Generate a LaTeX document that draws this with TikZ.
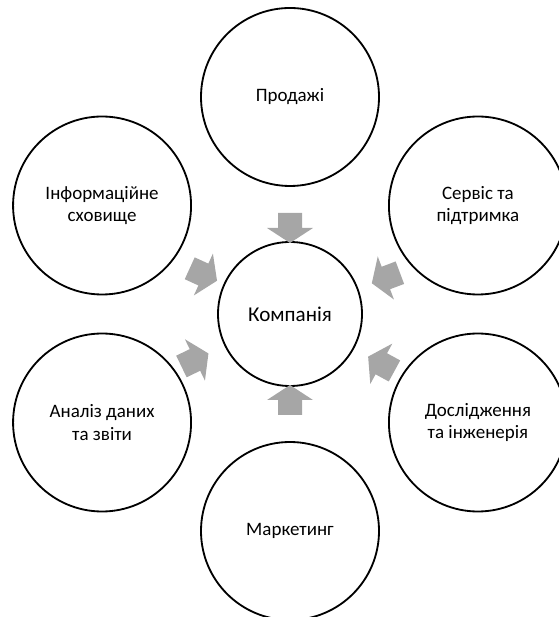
\documentclass[tikz,border=0pt]{standalone}
\usepackage{fontspec}
\setmainfont{Carlito}
\usepackage{tikz}
\usetikzlibrary{positioning}

\begin{document}
\begin{tikzpicture}
        [
          hub/.style={circle,draw=black,line width=1.3pt,minimum size=3.6cm,
            align=center,font=\fontsize{15}{18}\selectfont},
          unit/.style={circle,draw=black,line width=1.3pt,minimum size=4.45cm,
            align=center,font=\fontsize{13.5}{16}\selectfont},
          blockarrow/.style={fill=black!35,draw=none}
        ]
        \useasboundingbox (-7.25,-7.575) rectangle (6.7,7.85);
        % hub
        \node [hub] (firm) at (0,0) {Компанія};
        % outer circles
        \node [unit] (sales) at (90:5.425) {Продажі};
        \node [unit] (service) at (30:5.425) {Сервіс та\\підтримка};
        \node [unit] (research) at (-30:5.425) {Дослідження\\та інженерія};
        \node [unit] (marketing) at (-90:5.425) {Маркетинг};
        \node [unit] (analysis) at (210:5.425) {Аналіз даних\\та звіти};
        \node [unit] (storage) at (150:5.425) {Інформаційне\\сховище};
        % arrows into the hub
        \foreach \ang/\dist in {90/2.15,20.6/2.56,-28.6/2.6,-90/2.15,205.8/2.64,155.5/2.38} {
            \fill [blockarrow,shift={(\ang:\dist)},rotate=\ang+180]
            (-0.375,-0.3) -- (0,-0.3) -- (0,-0.575) -- (0.375,0)
            -- (0,0.575) -- (0,0.3) -- (-0.375,0.3) -- cycle;
        }
\end{tikzpicture}
\end{document}
